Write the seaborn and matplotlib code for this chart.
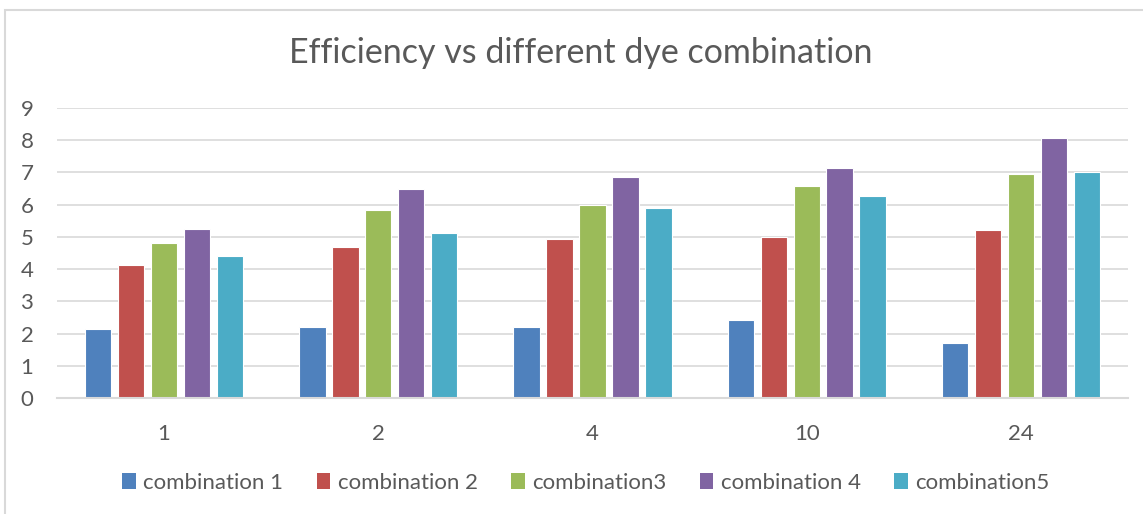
import matplotlib
matplotlib.use("Agg")
import matplotlib.pyplot as plt
from matplotlib.patches import Rectangle, Patch
import seaborn as sns
import pandas as pd

# data
times = ['1', '2', '4', '10', '24']
series = ['combination 1', 'combination 2', 'combination3', 'combination 4', 'combination5']
comb1 = [2.13, 2.20, 2.21, 2.42, 1.71]
comb2 = [4.13, 4.70, 4.94, 5.00, 5.20]
comb3 = [4.82, 5.82, 5.99, 6.57, 6.96]
comb4 = [5.24, 6.48, 6.87, 7.13, 8.06]
comb5 = [4.41, 5.11, 5.91, 6.27, 7.01]

colors = ['#4F81BD', '#C0504D', '#9BBB59', '#8064A2', '#4BACC6']
text_col = '#595959'
grid_col = '#D9D9D9'

rows = []
for name, vals in zip(series, [comb1, comb2, comb3, comb4, comb5]):
    for t, v in zip(times, vals):
        rows.append({'time': t, 'efficiency': v, 'series': name})
df = pd.DataFrame(rows)

sns.set_style("white")
plt.rcParams['font.family'] = ['Lato', 'DejaVu Sans']

fig = plt.figure(figsize=(11.43, 5.14), dpi=100)
ax = fig.add_axes([57 / 1143, 1 - 398 / 514, (1128 - 57) / 1143, 290 / 514])

sns.barplot(data=df, x='time', y='efficiency', hue='series', order=times,
            hue_order=series, palette=colors, saturation=1, width=0.77, gap=0.2,
            edgecolor='white', linewidth=0.8, ax=ax, legend=False)

ax.set_ylim(0, 9)
ax.set_yticks(range(0, 10))
ax.set_xlim(-0.5, len(times) - 0.5)
ax.yaxis.grid(True, color=grid_col, linewidth=1.2)
ax.set_axisbelow(True)
for s in ['top', 'right', 'left']:
    ax.spines[s].set_visible(False)
ax.spines['bottom'].set_color(grid_col)
ax.spines['bottom'].set_linewidth(1.5)
ax.tick_params(axis='both', length=0, labelsize=16, labelcolor=text_col)
ax.tick_params(axis='y', pad=17)
ax.tick_params(axis='x', pad=19)
ax.set_xlabel('')
ax.set_ylabel('')

fig.text(581 / 1143, 1 - 53 / 514, 'Efficiency vs different dye combination',
         ha='center', va='center', fontsize=24.5, color=text_col)

handles = [Patch(facecolor=c, edgecolor='none') for c in colors]
fig.legend(handles, series, loc='center', bbox_to_anchor=(586 / 1143, 1 - 483 / 514),
           ncol=5, frameon=False, fontsize=16, labelcolor=text_col,
           handlelength=0.6, handleheight=0.7, handletextpad=0.35, columnspacing=1.5)

fig.patches.append(Rectangle((5 / 1143, -0.05), 1.1, 1 - 10 / 514 + 0.05,
                             transform=fig.transFigure, fill=False,
                             edgecolor=grid_col, linewidth=1.5))

fig.savefig('out.png', dpi=100)
